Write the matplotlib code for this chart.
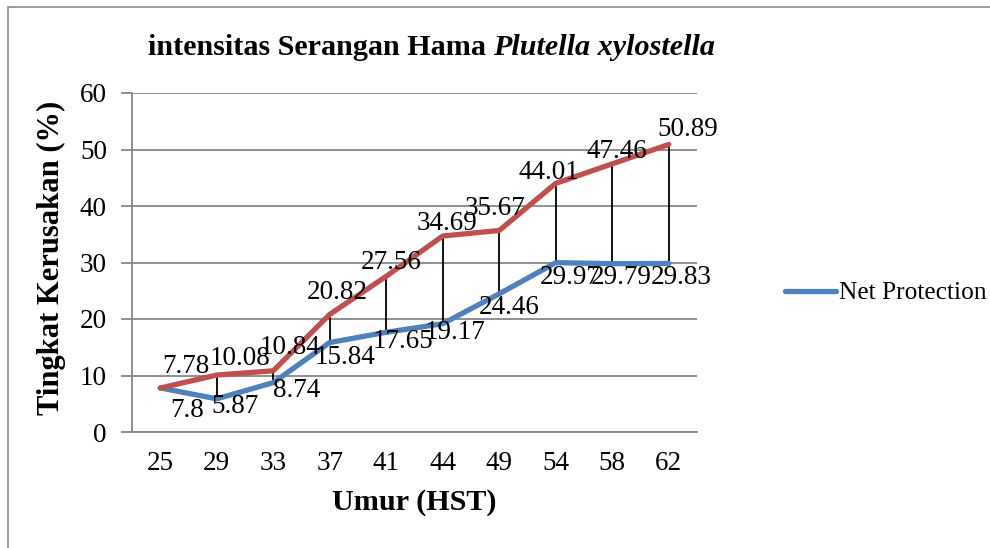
import matplotlib
matplotlib.use("Agg")
import matplotlib.pyplot as plt
from matplotlib.lines import Line2D
from matplotlib.patches import Rectangle

# data
umur = ['25', '29', '33', '37', '41', '44', '49', '54', '58', '62']
control = [7.78, 10.08, 10.84, 20.82, 27.56, 34.69, 35.67, 44.01, 47.46, 50.89]
net_protection = [7.8, 5.87, 8.74, 15.84, 17.65, 19.17, 24.46, 29.97, 29.79, 29.83]

# label offsets in pixels (dx, dy up), as placed in the original
red_off = [(26, 22), (23, 17), (17, 23), (7, 22), (5, 14), (4, 13), (-4, 22), (-7, 11), (5, 12), (19, 15)]
blue_off = [(27, -23), (18, -8), (23, -8), (15, -15), (17, -9), (12, -9), (10, -14), (14, -15), (9, -14), (12, -14)]

RED = '#C0504D'
BLUE = '#4F81BD'
GRID = '#878787'
SERIF = 'Liberation Serif'

plt.rcParams['font.family'] = SERIF

W, H = 990, 548
fig = plt.figure(figsize=(W / 100, H / 100), dpi=100)
ax = fig.add_axes([132 / W, (H - 432) / H, 565 / W, 339 / H])

x = list(range(len(umur)))
NUM = 19.5

ax.vlines(x, net_protection, control, color='black', lw=1.3, zorder=2)
ax.plot(x, net_protection, color=BLUE, lw=3.8, solid_capstyle='round', zorder=3)
ax.plot(x, control, color=RED, lw=3.8, solid_capstyle='round', zorder=4)

for i in x:
    ax.annotate(f'{control[i]:g}', (i, control[i]), xytext=red_off[i], textcoords='offset pixels',
                ha='center', va='center', fontsize=NUM, zorder=5)
    ax.annotate(f'{net_protection[i]:g}', (i, net_protection[i]), xytext=blue_off[i],
                textcoords='offset pixels', ha='center', va='center', fontsize=NUM, zorder=5)

ax.set_xlim(-0.5, len(umur) - 0.5)
ax.set_ylim(0, 60)
ax.set_yticks(range(0, 61, 10))
ax.set_xticks(x)
ax.set_xticklabels(umur)
ax.yaxis.grid(True, color=GRID, lw=1.3)
ax.set_axisbelow(True)
for s in ['top', 'right']:
    ax.spines[s].set_visible(False)
for s in ['left', 'bottom']:
    ax.spines[s].set_color(GRID)
    ax.spines[s].set_linewidth(1.3)
ax.tick_params(axis='y', length=8, width=1.3, color=GRID, pad=10, labelsize=NUM)
ax.tick_params(axis='x', length=0, pad=14, labelsize=NUM)

# title: plain bold part, then bold italic species name
t1 = fig.text(148 / W, 1 - 55 / H, 'intensitas Serangan Hama ', fontsize=21.7,
              fontweight='bold', va='baseline', ha='left')
fig.canvas.draw()
ax.annotate('Plutella xylostella', xy=(1, 0), xycoords=t1, va='bottom', ha='left',
            fontsize=21.7, fontweight='bold', fontstyle='italic', annotation_clip=False)

fig.text(51 / W, 1 - 258 / H, 'Tingkat Kerusakan (%)', rotation=90, ha='center', va='center',
         fontsize=22, fontweight='bold')
fig.text(414 / W, 1 - 502 / H, 'Umur (HST)', ha='center', va='center',
         fontsize=21.7, fontweight='bold')

handle = Line2D([], [], color=BLUE, lw=3.8, solid_capstyle='round')
fig.legend([handle], ['Net Protection'], loc='center left', bbox_to_anchor=(785 / W, 1 - 293 / H),
           frameon=False, borderpad=0, borderaxespad=0, handlelength=2.0, handletextpad=0.12,
           fontsize=18.3)

# outer frame of the chart area
fig.add_artist(Rectangle((8 / W, -0.1), 1.2, 1 - 7 / H + 0.1, transform=fig.transFigure,
                         fill=False, edgecolor='#8c8c8c', lw=1.2))

fig.savefig('out.png', dpi=100)
